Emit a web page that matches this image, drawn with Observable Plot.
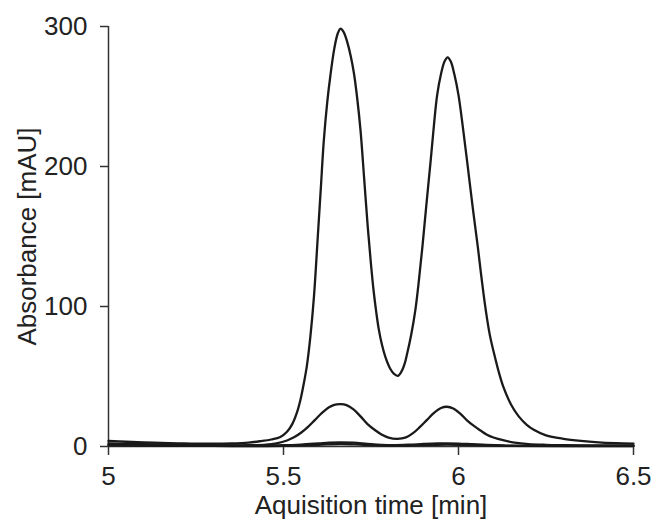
<!DOCTYPE html>
<html>
<head>
<meta charset="utf-8">
<script src="https://cdn.jsdelivr.net/npm/d3@7"></script>
<script src="https://cdn.jsdelivr.net/npm/@observablehq/plot@0.6"></script>
<style>
  html, body { margin: 0; padding: 0; background: #fff; }
  #chart svg { display: block; }
</style>
</head>
<body>
<div id="chart"></div>
<script>
// ---- data ----
const xTicks = [5, 5.5, 6, 6.5];
const xTickLabels = ["5", "5.5", "6", "6.5"];
const yTicks = [0, 100, 200, 300];
const xTitle = "Aquisition time [min]";
const yTitle = "Absorbance [mAU]";

// highest concentration trace
const bigTime = [5.000, 5.050, 5.100, 5.150, 5.200, 5.250, 5.300, 5.350, 5.400, 5.434, 5.465, 5.491, 5.510, 5.525, 5.538, 5.549, 5.558, 5.567, 5.577, 5.587, 5.598, 5.607, 5.615, 5.625, 5.634, 5.645, 5.655, 5.663, 5.672, 5.682, 5.692, 5.701, 5.710, 5.720, 5.730, 5.741, 5.750, 5.758, 5.765, 5.772, 5.781, 5.791, 5.805, 5.815, 5.827, 5.838, 5.846, 5.853, 5.865, 5.877, 5.887, 5.897, 5.908, 5.920, 5.930, 5.939, 5.950, 5.960, 5.969, 5.978, 5.988, 6.000, 6.012, 6.025, 6.040, 6.055, 6.066, 6.077, 6.090, 6.106, 6.117, 6.129, 6.150, 6.172, 6.195, 6.215, 6.250, 6.300, 6.350, 6.400, 6.450, 6.500];
const bigValue = [4.0, 3.4, 3.0, 2.6, 2.3, 2.0, 2.0, 2.2, 2.8, 3.8, 5.0, 6.8, 10.5, 16, 24, 34, 45, 58, 79, 107, 150, 186, 218, 246, 265, 284, 295, 298.5, 296, 289, 279, 267, 250, 226, 193, 156, 130, 110, 96, 84, 73, 64, 55.5, 52, 50.5, 54, 59, 66, 80, 98, 119, 143, 172, 203, 230, 251, 266, 275, 278, 275, 266, 251, 229, 203, 172, 143, 120, 99, 79, 62, 51.5, 42, 30, 21.5, 15.5, 12, 8, 5.5, 4, 3, 2.4, 2.0];

// middle concentration trace
const midTime = [5.00, 5.10, 5.20, 5.30, 5.40, 5.45, 5.48, 5.51, 5.53, 5.55, 5.57, 5.59, 5.61, 5.63, 5.645, 5.663, 5.68, 5.70, 5.72, 5.74, 5.763, 5.78, 5.80, 5.825, 5.85, 5.87, 5.89, 5.91, 5.93, 5.95, 5.967, 5.985, 6.005, 6.025, 6.045, 6.063, 6.08, 6.10, 6.13, 6.16, 6.20, 6.25, 6.30, 6.40, 6.50];
const midValue = [2.2, 1.7, 1.3, 1.0, 0.9, 1.3, 2.3, 4.3, 6.6, 9.8, 14, 19, 24, 28, 29.8, 30.3, 29.6, 26.5, 21.5, 16, 11.4, 8.6, 6.4, 5.5, 6.5, 9.5, 14, 19, 24, 27.5, 28.4, 27.2, 23.5, 18.5, 14.5, 11.4, 8.6, 6.4, 4.3, 2.8, 1.7, 1.2, 1.0, 0.8, 0.7];

// low concentration trace
const smallTime = [5.00, 5.20, 5.40, 5.50, 5.55, 5.60, 5.63, 5.663, 5.70, 5.74, 5.78, 5.82, 5.86, 5.90, 5.94, 5.967, 6.00, 6.04, 6.08, 6.13, 6.20, 6.35, 6.50];
const smallValue = [1.2, 0.8, 0.6, 0.9, 1.4, 2.2, 2.7, 3.0, 2.7, 1.9, 1.2, 1.0, 1.3, 1.8, 2.2, 2.3, 2.1, 1.6, 1.1, 0.7, 0.5, 0.4, 0.4];

// lowest concentration trace
const faintTime = [5.00, 5.30, 5.50, 5.60, 5.663, 5.73, 5.82, 5.90, 5.967, 6.04, 6.15, 6.50];
const faintValue = [0.8, 0.4, 0.4, 1.2, 1.8, 1.2, 0.6, 1.0, 1.4, 1.0, 0.4, 0.3];

// ---- build table for Plot ----
function rows(name, ts, vs) { return ts.map((t, i) => ({series: name, t, v: vs[i]})); }
const table = [
  ...rows("faint", faintTime, faintValue),
  ...rows("small", smallTime, smallValue),
  ...rows("mid", midTime, midValue),
  ...rows("big", bigTime, bigValue)
];

const ink = "#222";
const chart = Plot.plot({
  width: 652,
  height: 524,
  marginLeft: 108,
  marginRight: 19,
  marginTop: 26,
  marginBottom: 78,
  style: {fontFamily: "'Liberation Sans', Arial, Helvetica, sans-serif", fontSize: "26px", color: ink, background: "#fff"},
  x: {domain: [5, 6.5]},
  y: {domain: [0, 300]},
  marks: [
    Plot.axisX({ticks: xTicks, tickFormat: (d) => xTickLabels[xTicks.indexOf(d)], tickSize: 9, tickPadding: 11, stroke: "#333", strokeWidth: 1.5, label: null, fill: ink}),
    Plot.axisY({ticks: yTicks, tickSize: 8, tickPadding: 13, stroke: "#333", strokeWidth: 1.5, label: null, fill: ink}),
    Plot.ruleX([5], {y1: 0, y2: 300, stroke: "#333", strokeWidth: 1.5}),
    Plot.ruleY([0], {stroke: "#333", strokeWidth: 1.5}),
    Plot.line(table, {x: "t", y: "v", z: "series", stroke: "#1a1a1a", strokeWidth: 2.3, curve: "catmull-rom"}),
    Plot.text([xTitle], {frameAnchor: "bottom", lineAnchor: "bottom", dy: 67, fill: ink, fontSize: 26}),
    Plot.text([yTitle], {frameAnchor: "left", textAnchor: "middle", rotate: -90, dx: -81, fill: ink, fontSize: 26})
  ]
});
document.getElementById("chart").appendChild(chart);
</script>
</body>
</html>
